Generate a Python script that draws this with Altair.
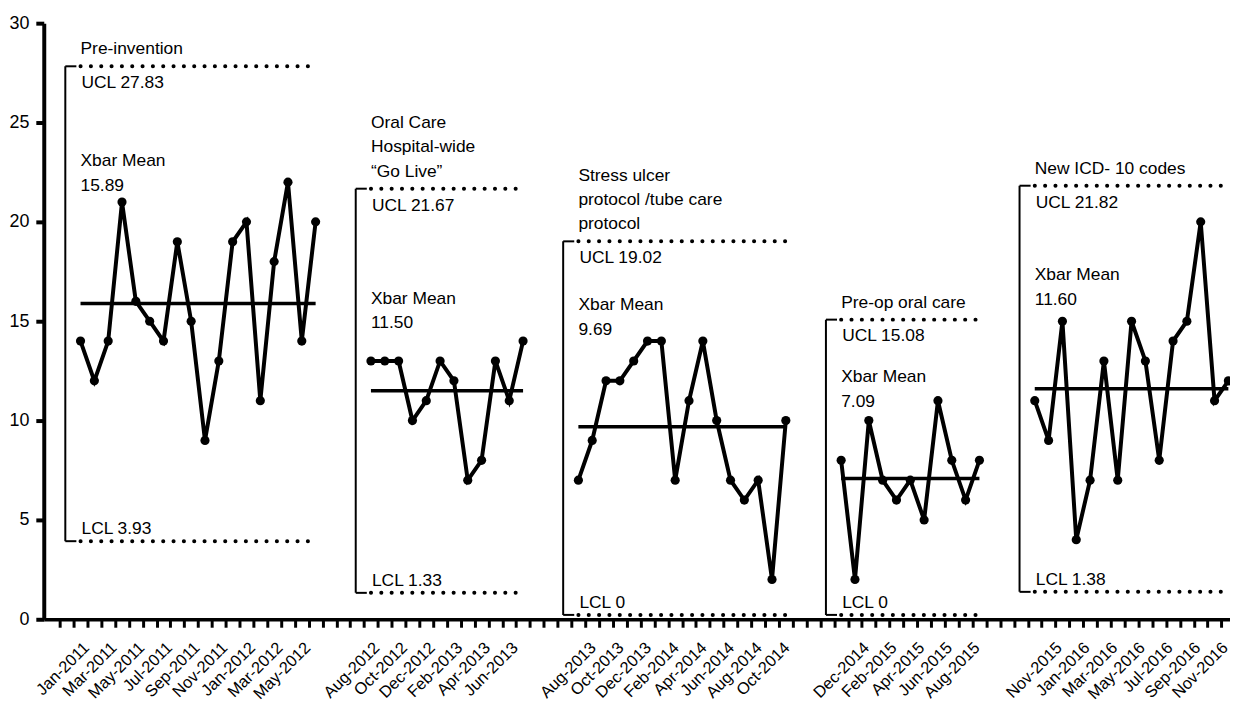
import json
import altair as alt
import pandas as pd

FONT = "Liberation Sans, Arial, sans-serif"

# ---------------- data ----------------
phase_titles = [
    ["Pre-invention"],
    ["Oral Care", "Hospital-wide", "\u201cGo Live\u201d"],
    ["Stress ulcer", "protocol /tube care", "protocol"],
    ["Pre-op oral care"],
    ["New ICD- 10 codes"],
]
phase_start = [0, 21, 36, 55, 69]          # slot index of the first month of each phase
phase_ucl = [27.83, 21.67, 19.02, 15.08, 21.82]
phase_lcl = [3.93, 1.33, 0, 0, 1.38]
phase_mean = [15.89, 11.50, 9.69, 7.09, 11.60]
mean_label_y = [23.05, 16.14, 15.8, 12.17, 17.3]   # where the "Xbar Mean" note sits

values_1 = [14, 12, 14, 21, 16, 15, 14, 19, 15, 9, 13, 19, 20, 11, 18, 22, 14, 20]
values_2 = [13, 13, 13, 10, 11, 13, 12, 7, 8, 13, 11, 14]
values_3 = [7, 9, 12, 12, 13, 14, 14, 7, 11, 14, 10, 7, 6, 7, 2, 10]
values_4 = [8, 2, 10, 7, 6, 7, 5, 11, 8, 6, 8]
values_5 = [11, 9, 15, 4, 7, 13, 7, 15, 13, 8, 14, 15, 20, 11, 12]
phase_values = [values_1, values_2, values_3, values_4, values_5]

labels_1 = ["Jan-2011", "Mar-2011", "May-2011", "Jul-2011", "Sep-2011",
            "Nov-2011", "Jan-2012", "Mar-2012", "May-2012"]
labels_2 = ["Aug-2012", "Oct-2012", "Dec-2012", "Feb-2013", "Apr-2013", "Jun-2013"]
labels_3 = ["Aug-2013", "Oct-2013", "Dec-2013", "Feb-2014", "Apr-2014",
            "Jun-2014", "Aug-2014", "Oct-2014"]
labels_4 = ["Dec-2014", "Feb-2015", "Apr-2015", "Jun-2015", "Aug-2015"]
labels_5 = ["Nov-2015", "Jan-2016", "Mar-2016", "May-2016", "Jul-2016",
            "Sep-2016", "Nov-2016"]
phase_labels = [labels_1, labels_2, labels_3, labels_4, labels_5]
label_shift = [0, 0, 0.65, 1.4, 1.35]      # the printed labels drift right of the points

# ---------------- tables ----------------
pts = []
for p, vals in enumerate(phase_values):
    for k, v in enumerate(vals):
        pts.append({"phase": p, "idx": phase_start[p] + k, "value": v})
points = pd.DataFrame(pts)

phases = pd.DataFrame({
    "phase": range(5),
    "start": phase_start,
    "end": [s + len(v) - 1 for s, v in zip(phase_start, phase_values)],
    "ucl": phase_ucl,
    "lcl": phase_lcl,
    "mean": phase_mean,
    "ucl_text": [f"UCL {u:.2f}" for u in phase_ucl],
    "lcl_text": [f"LCL {l:g}" for l in phase_lcl],
    "mean_text": [f"Xbar Mean\n{m:.2f}" for m in phase_mean],
    "mean_y": mean_label_y,
})

trows = []
for p, lines in enumerate(phase_titles):
    n = len(lines)
    for j, line in enumerate(lines):
        trows.append({"phase": p, "start": phase_start[p], "ucl": phase_ucl[p],
                      "line": line, "k": n - 1 - j})
titles = pd.DataFrame(trows)

label_vals, label_texts = [], []
for p, labs in enumerate(phase_labels):
    for j, t in enumerate(labs):
        label_vals.append(round(phase_start[p] + 2 * j + label_shift[p], 3))
        label_texts.append(t)
tick_vals = [k + 0.5 for k in range(-2, 83)]

# ---------------- scales / axes ----------------
W, H = 1194, 600
SLOT = 13.92
x_min = -37 / SLOT
x_max = x_min + W / SLOT
xs = alt.Scale(domain=[x_min, x_max], nice=False, zero=False)
ys = alt.Scale(domain=[0, 30], nice=False, zero=True)

lv = json.dumps(label_vals)
lt = json.dumps(label_texts)
x_axis = alt.Axis(
    values=tick_vals + label_vals,
    labelExpr=f"indexof({lv}, datum.value) >= 0 ? {lt}[indexof({lv}, datum.value)] : ''",
    tickOpacity={"condition": {"test": f"indexof({lv}, datum.value) >= 0", "value": 0}, "value": 1},
    labelAngle=315, labelAlign="right", labelBaseline="top",
    labelPadding=12, labelOverlap=False, labelFlush=False, labelBound=False,
    labelFont=FONT, labelFontSize=16.5, labelColor="black",
    tickSize=8, tickWidth=3, tickColor="black",
    domainColor="black", domainWidth=3.5, grid=False, title=None,
)
y_axis = alt.Axis(
    values=[0, 5, 10, 15, 20, 25, 30],
    labelFont=FONT, labelFontSize=18, labelColor="black", labelPadding=7,
    tickSize=8, tickWidth=4, tickColor="black",
    domainColor="black", domainWidth=4, grid=False, title=None,
)


def X(field):
    return alt.X(field, type="quantitative", scale=xs, axis=x_axis)


def Y(field):
    return alt.Y(field, type="quantitative", scale=ys, axis=y_axis)


base_ph = alt.Chart(phases).transform_calculate(
    bx="datum.start - 1.1",
    sx="datum.start - 0.3",
    lcl_draw="datum.lcl == 0 ? 0.22 : datum.lcl",
)

bracket_v = base_ph.mark_rule(color="black", strokeWidth=2).encode(
    x=X("bx"), y=Y("ucl"), y2="lcl_draw:Q")
bracket_top = base_ph.mark_rule(color="black", strokeWidth=2).encode(
    x=X("bx"), x2="sx:Q", y=Y("ucl"))
bracket_bot = base_ph.mark_rule(color="black", strokeWidth=2).encode(
    x=X("bx"), x2="sx:Q", y=Y("lcl_draw"))

dots = dict(color="black", strokeWidth=4, strokeCap="round", strokeDash=[0.1, 10.3])
ucl_line = base_ph.mark_rule(**dots).encode(x=X("start"), x2="end:Q", y=Y("ucl"))
lcl_line = base_ph.mark_rule(**dots).encode(x=X("start"), x2="end:Q", y=Y("lcl_draw"))
mean_line = base_ph.mark_rule(color="black", strokeWidth=3.5).encode(
    x=X("start"), x2="end:Q", y=Y("mean"))

txt = dict(font=FONT, fontSize=17.5, color="black", align="left")
title_layers = [
    alt.Chart(titles).transform_filter(f"datum.k == {k}").mark_text(
        baseline="alphabetic", dy=-12 - 24.5 * k, **txt
    ).encode(x=X("start"), y=Y("ucl"), text="line:N")
    for k in range(3)
]
ucl_text = base_ph.mark_text(baseline="middle", dy=17, dx=1, **txt).encode(
    x=X("start"), y=Y("ucl"), text="ucl_text:N")
lcl_text = base_ph.mark_text(baseline="middle", dy=-12, dx=1, **txt).encode(
    x=X("start"), y=Y("lcl_draw"), text="lcl_text:N")
mean_text = base_ph.mark_text(baseline="middle", lineBreak="\n", lineHeight=25, **txt).encode(
    x=X("start"), y=Y("mean_y"), text="mean_text:N")

series = alt.Chart(points).mark_line(color="black", strokeWidth=4).encode(
    x=X("idx"), y=Y("value"), detail="phase:N")
markers = alt.Chart(points).mark_circle(color="black", size=85, opacity=1).encode(
    x=X("idx"), y=Y("value"))

chart = alt.layer(
    bracket_v, bracket_top, bracket_bot, ucl_line, lcl_line, mean_line,
    series, markers, *title_layers, ucl_text, lcl_text, mean_text,
).properties(
    width=W, height=H,
    background="white",
    autosize=alt.AutoSizeParams(type="none"),
    padding={"left": 36, "top": 13, "right": 0, "bottom": 82},
).configure_view(stroke=None)

chart.save("out.html", embed_options={"renderer": "svg", "actions": False})
